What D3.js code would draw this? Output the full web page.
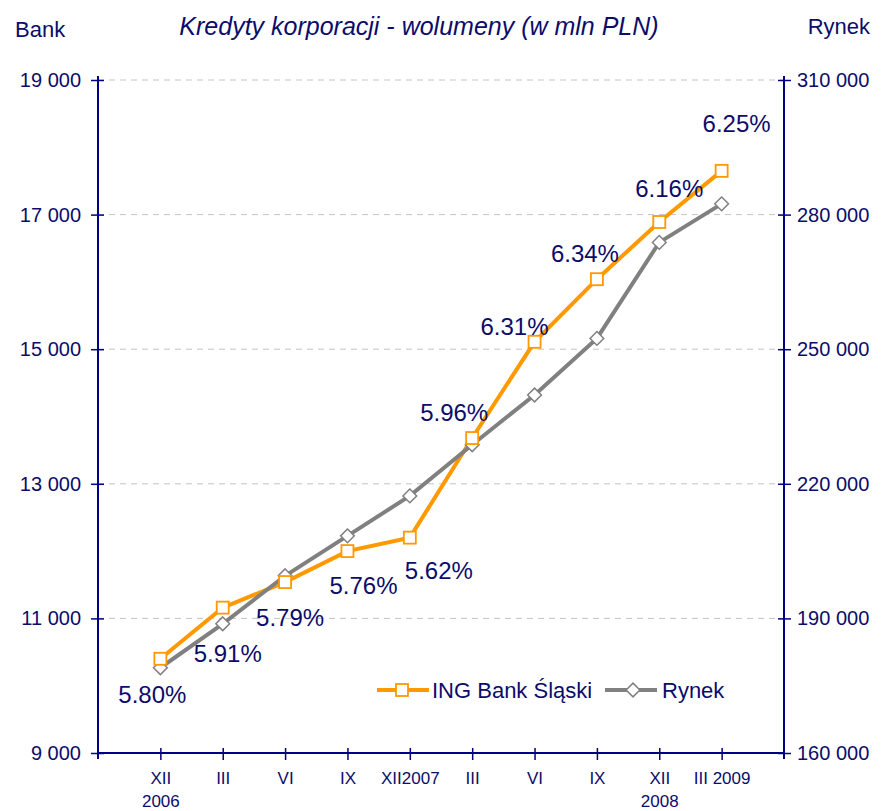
<!DOCTYPE html>
<html>
<head>
<meta charset="utf-8">
<script src="https://cdn.jsdelivr.net/npm/d3@7"></script>
<style>
  body { margin: 0; background: #fff; }
  svg text { font-family: "Liberation Sans", Arial, sans-serif; fill: #0c0c6a; }
  .pct { font-size: 24px; }
</style>
</head>
<body>
<script>
// data
var categories = ["XII", "III", "VI", "IX", "XII2007", "III", "VI", "IX", "XII", "III 2009"];
var yearLabels = ["2006", "", "", "", "", "", "", "", "2008", ""];
var bankValues = [10400, 11160, 11540, 12000, 12200, 13680, 15110, 16040, 16890, 17650];
var marketValues = [179000, 188800, 199500, 208400, 217300, 228700, 239800, 252400, 273800, 282400];
var shareLabels = ["5.80%", "5.91%", "5.79%", "5.76%", "5.62%", "5.96%", "6.31%", "6.34%", "6.16%", "6.25%"];
var bankTicks = [9000, 11000, 13000, 15000, 17000, 19000];
var marketTicks = [160000, 190000, 220000, 250000, 280000, 310000];

// label placement relative to the bank point (layout only)
var labelOffsets = [[-8, 36], [5, 46], [5, 35], [16, 34], [29, 33], [-18, -26], [-20, -15], [-12, -26], [10, -34], [15, -47]];

var W = 883, H = 811;
var mLeft = 98, mRight = 784, mTop = 80, mBottom = 753;
var navy = "#000080", orange = "#ff9900", grey = "#808080";

var svg = d3.select("body").append("svg").attr("width", W).attr("height", H);

var x = d3.scalePoint().domain(d3.range(categories.length)).range([mLeft, mRight]).padding(1);
var yL = d3.scaleLinear().domain([9000, 19000]).range([mBottom, mTop]);
var yR = d3.scaleLinear().domain([160000, 310000]).range([mBottom, mTop]);

var fmt = function(v) { return d3.format(",")(v).replace(/,/g, " "); };

// grid
svg.append("g").selectAll("line").data(bankTicks.slice(1)).enter().append("line")
  .attr("x1", mLeft).attr("x2", mRight)
  .attr("y1", function(d) { return yL(d); }).attr("y2", function(d) { return yL(d); })
  .attr("stroke", "#c4c4c4").attr("stroke-width", 1).attr("stroke-dasharray", "6,5");

// axes
var axisL = svg.append("g").attr("transform", "translate(" + mLeft + ",0)")
  .call(d3.axisLeft(yL).tickValues(bankTicks).tickFormat(fmt).tickSize(7).tickPadding(10));
var axisR = svg.append("g").attr("transform", "translate(" + mRight + ",0)")
  .call(d3.axisRight(yR).tickValues(marketTicks).tickFormat(fmt).tickSize(7).tickPadding(6));
var axisB = svg.append("g").attr("transform", "translate(0," + mBottom + ")")
  .call(d3.axisBottom(x).tickFormat(function(i) { return categories[i]; }).tickSize(7).tickPadding(12));

[axisL, axisR, axisB].forEach(function(g) {
  g.select(".domain").attr("stroke", navy).attr("stroke-width", 2);
  g.selectAll(".tick line").attr("stroke", navy).attr("stroke-width", 1.5);
  g.selectAll("text").attr("fill", "#0c0c6a")
    .style("font-family", "'Liberation Sans', Arial, sans-serif");
});
// ticks cross the axis lines
axisL.selectAll(".tick line").attr("x1", 6);
axisR.selectAll(".tick line").attr("x1", -6);
axisB.selectAll(".tick line").attr("y1", -5);
axisB.select(".domain").attr("d", "M" + mLeft + ",0H" + mRight);
axisL.select(".domain").attr("d", "M0," + (mTop - 4) + "V" + (mBottom + 6));
axisR.select(".domain").attr("d", "M0," + (mTop - 4) + "V" + (mBottom + 6));
axisB.selectAll(".tick text").style("font-size", "17px");
axisL.selectAll(".tick text").style("font-size", "20px");
axisR.selectAll(".tick text").style("font-size", "20px");

axisB.selectAll(".tick").append("text")
  .attr("y", 54).attr("text-anchor", "middle")
  .attr("fill", "#0c0c6a").style("font-size", "17px")
  .text(function(i) { return yearLabels[i]; });

// lines
var lineBank = d3.line().x(function(d, i) { return x(i); }).y(function(d) { return yL(d); });
var lineMarket = d3.line().x(function(d, i) { return x(i); }).y(function(d) { return yR(d); });

svg.append("path").datum(bankValues).attr("d", lineBank)
  .attr("fill", "none").attr("stroke", orange).attr("stroke-width", 4);
svg.append("path").datum(marketValues).attr("d", lineMarket)
  .attr("fill", "none").attr("stroke", grey).attr("stroke-width", 4);

svg.append("g").selectAll("path").data(marketValues).enter().append("path")
  .attr("d", d3.symbol().type(d3.symbolDiamond2).size(120))
  .attr("transform", function(d, i) { return "translate(" + x(i) + "," + yR(d) + ")"; })
  .attr("fill", "#fff").attr("stroke", grey).attr("stroke-width", 1.5);

svg.append("g").selectAll("rect").data(bankValues).enter().append("rect")
  .attr("x", function(d, i) { return x(i) - 6; }).attr("y", function(d) { return yL(d) - 6; })
  .attr("width", 12).attr("height", 12)
  .attr("fill", "#fff").attr("stroke", orange).attr("stroke-width", 1.8);

// share labels
svg.append("g").selectAll("text").data(shareLabels).enter().append("text")
  .attr("class", "pct")
  .attr("x", function(d, i) { return x(i) + labelOffsets[i][0]; })
  .attr("y", function(d, i) { return yL(bankValues[i]) + labelOffsets[i][1]; })
  .attr("text-anchor", "middle").attr("dominant-baseline", "central")
  .text(function(d) { return d; });

// titles
svg.append("text").attr("x", 419).attr("y", 35).attr("text-anchor", "middle")
  .style("font-size", "25px").style("font-style", "italic")
  .text("Kredyty korporacji - wolumeny (w mln PLN)");
svg.append("text").attr("x", 15).attr("y", 37).style("font-size", "22px").text("Bank");
svg.append("text").attr("x", 870).attr("y", 34).attr("text-anchor", "end").style("font-size", "22px").text("Rynek");

// legend
var lg = svg.append("g").attr("transform", "translate(377,690)");
lg.append("line").attr("x1", 0).attr("x2", 52).attr("stroke", orange).attr("stroke-width", 4);
lg.append("rect").attr("x", 19).attr("y", -6).attr("width", 12).attr("height", 12)
  .attr("fill", "#fff").attr("stroke", orange).attr("stroke-width", 1.8);
lg.append("text").attr("x", 55).attr("dominant-baseline", "central").style("font-size", "22px").text("ING Bank Śląski");
lg.append("line").attr("x1", 228).attr("x2", 280).attr("stroke", grey).attr("stroke-width", 4);
lg.append("path").attr("d", d3.symbol().type(d3.symbolDiamond2).size(120))
  .attr("transform", "translate(256,0)").attr("fill", "#fff").attr("stroke", grey).attr("stroke-width", 1.5);
lg.append("text").attr("x", 285).attr("dominant-baseline", "central").style("font-size", "22px").text("Rynek");
</script>
</body>
</html>
